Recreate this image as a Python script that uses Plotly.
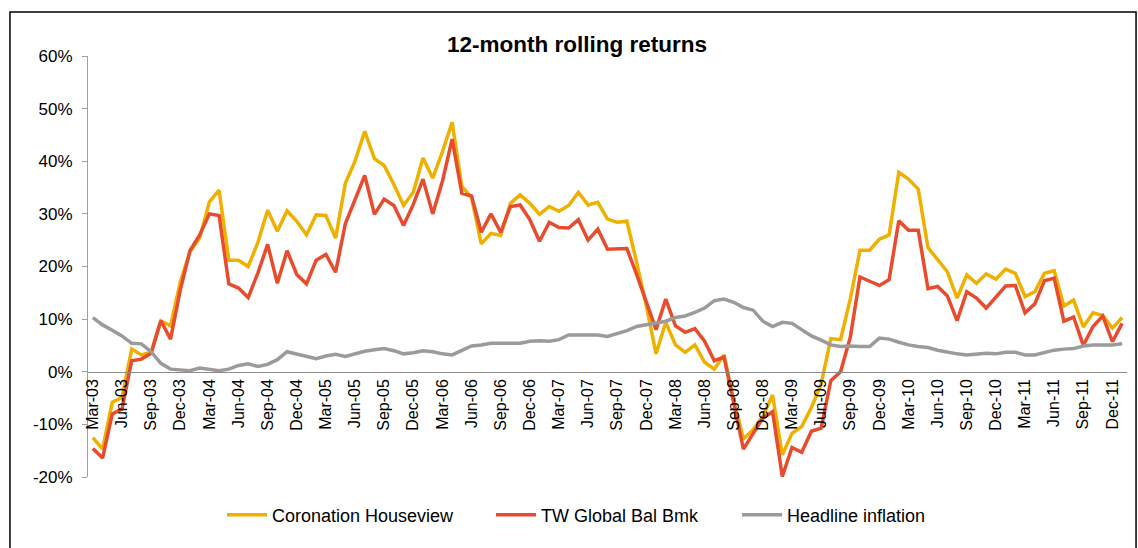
import pandas as pd
import plotly.graph_objects as go

# Monthly categories Mar-03 .. Jan-12
months = list(pd.date_range("2003-03-01", periods=107, freq="MS").strftime("%b-%y"))
tick_labels = months[::3]

y_tick_values = [-20, -10, 0, 10, 20, 30, 40, 50, 60]
y_tick_labels = ["-20%", "-10%", "0%", "10%", "20%", "30%", "40%", "50%", "60%"]

coronation = [
    -12.5, -14.7, -5.8, -4.9, 4.3, 3.2, 3.7, 9.7, 8.7, 17.0,
    22.8, 25.4, 32.3, 34.5, 21.2, 21.2, 20.0, 24.6, 30.7, 26.7,
    30.6, 28.6, 26.0, 29.8, 29.7, 25.4, 35.8, 40.0, 45.7, 40.5,
    39.2, 35.6, 31.6, 34.1, 40.6, 36.8, 41.8, 47.4, 35.2, 33.1,
    24.3, 26.3, 25.9, 32.0, 33.6, 32.0, 29.9, 31.4, 30.5, 31.6,
    34.1, 31.7, 32.2, 29.0, 28.4, 28.6, 20.8, 12.5, 3.4, 9.4,
    5.1, 3.7, 5.1, 1.8, 0.5, 3.2, -5.3, -12.8, -11.0, -8.5,
    -4.4, -15.8, -11.7, -10.4, -6.8, -2.3, 6.3, 6.1, 13.8, 23.1,
    23.1, 25.2, 26.0, 37.9, 36.6, 34.7, 23.6, 21.4, 19.0, 14.0,
    18.4, 16.8, 18.6, 17.6, 19.5, 18.7, 14.3, 15.2, 18.7, 19.2,
    12.5, 13.6, 8.5, 11.2, 10.7, 8.3, 10.3,
]

tw_global = [
    -14.6, -16.4, -8.0, -7.1, 2.1, 2.4, 3.5, 9.7, 6.2, 15.5,
    23.0, 26.0, 30.0, 29.7, 16.7, 15.9, 14.1, 18.8, 24.2, 16.8,
    23.0, 18.5, 16.7, 21.2, 22.3, 18.9, 28.1, 32.7, 37.3, 29.9,
    32.8, 31.6, 27.8, 31.8, 36.6, 30.0, 36.2, 44.2, 33.9, 33.4,
    26.5, 30.0, 26.5, 31.4, 31.7, 28.9, 24.8, 28.4, 27.4, 27.3,
    28.9, 25.0, 27.1, 23.3, 23.3, 23.4, 18.5, 13.4, 8.0, 13.8,
    8.7, 7.5, 8.2, 5.8, 2.1, 2.8, -5.7, -14.7, -11.7, -8.8,
    -7.6, -19.9, -14.4, -15.3, -11.3, -10.7, -1.7, 0.0, 6.5, 18.0,
    17.2, 16.4, 17.5, 28.7, 26.9, 26.9, 15.8, 16.2, 14.4, 9.7,
    15.2, 14.0, 12.1, 14.1, 16.3, 16.4, 11.2, 12.9, 17.3, 17.8,
    9.6, 10.4, 5.0, 8.6, 10.6, 5.7, 9.2,
]

inflation = [
    10.3, 8.9, 7.9, 6.8, 5.4, 5.3, 3.8, 1.6, 0.5, 0.4,
    0.2, 0.7, 0.4, 0.2, 0.5, 1.2, 1.5, 1.0, 1.4, 2.3,
    3.8, 3.4, 2.9, 2.5, 3.0, 3.3, 2.9, 3.4, 3.9, 4.2,
    4.4, 4.0, 3.4, 3.6, 4.0, 3.8, 3.4, 3.2, 4.0, 4.9,
    5.1, 5.4, 5.4, 5.4, 5.4, 5.8, 5.9, 5.8, 6.1, 7.0,
    7.0, 7.0, 7.0, 6.7, 7.2, 7.8, 8.6, 8.9, 9.2, 9.6,
    10.3, 10.6, 11.3, 12.1, 13.5, 13.8, 13.2, 12.2, 11.7, 9.6,
    8.6, 9.4, 9.2, 7.9, 6.8, 6.0, 5.1, 4.8, 4.9, 4.8,
    4.8, 6.4, 6.2, 5.6, 5.1, 4.8, 4.6, 4.1, 3.7, 3.4,
    3.2, 3.4, 3.5, 3.4, 3.7, 3.7, 3.2, 3.2, 3.7, 4.1,
    4.3, 4.4, 4.9, 5.1, 5.1, 5.1, 5.3,
]

series_names = ["Coronation Houseview", "TW Global Bal Bmk", "Headline inflation"]
series_colors = ["#EFB000", "#E84C2E", "#9B9B9B"]
legend_ids = ["legend", "legend2", "legend3"]
legend_x = [222, 491, 737]   # left edge of each legend entry, px

FONT = "Liberation Sans, Arial, sans-serif"
W, H = 1138, 548

fig = go.Figure()
for name, vals, col, lg in zip(series_names, [coronation, tw_global, inflation], series_colors, legend_ids):
    fig.add_trace(go.Scatter(x=months, y=vals, mode="lines", name=name, legend=lg,
                             line=dict(color=col, width=3.5), hoverinfo="skip"))

legend_layout = {}
for lg, lx in zip(legend_ids, legend_x):
    legend_layout[lg] = dict(xref="container", x=lx / W, xanchor="left",
                             yref="container", y=1 - 515 / H, yanchor="middle",
                             font=dict(size=18, family=FONT), itemwidth=40,
                             bgcolor="rgba(0,0,0,0)")

fig.update_layout(
    width=W, height=H,
    margin=dict(l=88, r=11, t=56, b=71, autoexpand=False),
    paper_bgcolor="white", plot_bgcolor="white",
    font=dict(family=FONT, color="black"),
    title=dict(text="<b>12-month rolling returns</b>", font=dict(size=22.5, family=FONT),
               xref="container", x=577 / W, xanchor="center",
               yref="container", y=1 - 44 / H, yanchor="middle"),
    showlegend=True,
    xaxis=dict(type="category", categoryorder="array", categoryarray=months,
               range=[-0.5, len(months) - 0.5], automargin=False,
               anchor="free", position=0.25,
               showline=True, linecolor="#8C8C8C", linewidth=1,
               showgrid=False, zeroline=False, ticks="",
               tickmode="array", tickvals=tick_labels, ticktext=tick_labels,
               tickangle=-90, tickfont=dict(size=16, family=FONT)),
    yaxis=dict(range=[-20, 60], automargin=False,
               tickmode="array", tickvals=y_tick_values, ticktext=y_tick_labels,
               showline=True, linecolor="#A0A0A0", linewidth=1,
               ticks="outside", ticklen=5, tickcolor="#A0A0A0",
               ticklabelstandoff=6,
               showgrid=False, zeroline=False,
               tickfont=dict(size=17, family=FONT)),
    shapes=[dict(type="rect", xref="paper", yref="paper",
                 x0=-0.0751, x1=1.0087, y0=-0.25, y1=1.1045,
                 line=dict(color="black", width=1.5), fillcolor="rgba(0,0,0,0)")],
    **legend_layout,
)

fig.write_html("out.html", config={"displayModeBar": False},
               post_script="document.body.style.margin='0';document.body.style.overflow='hidden';")
